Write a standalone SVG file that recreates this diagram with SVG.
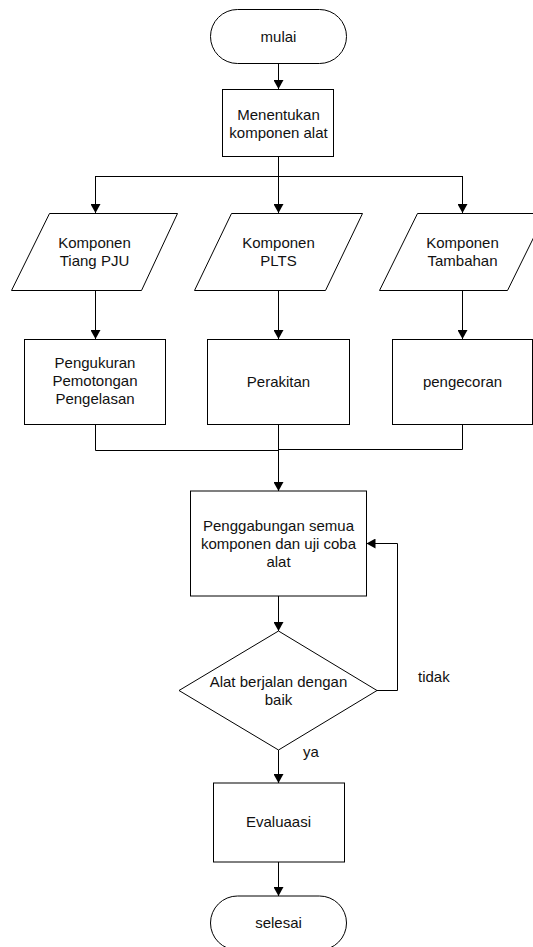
<svg xmlns="http://www.w3.org/2000/svg" width="533" height="947" viewBox="0 0 533 947">
<style>
.s{fill:#fff;stroke:#000;stroke-width:1}
.t{font-family:"Liberation Sans",Arial,sans-serif;font-size:15px;fill:#111;text-anchor:middle}
.l{text-anchor:start}
.c{fill:none;stroke:#000;stroke-width:1}
</style>
<defs>
<marker id="a" markerUnits="userSpaceOnUse" markerWidth="10" markerHeight="10" refX="9" refY="5" orient="auto">
<path d="M0,0 L9,5 L0,10 z" fill="#000"/>
</marker>
</defs>
<rect width="533" height="947" fill="#fff"/>
<g id="connectors">
<path class="c" d="M278.5,63 V89" marker-end="url(#a)"/>
<path class="c" d="M278.5,156 V213"  marker-end="url(#a)"/>
<path class="c" d="M95.5,176.5 H462.5"/>
<path class="c" d="M95.5,176 V213" marker-end="url(#a)"/>
<path class="c" d="M462.5,176 V213" marker-end="url(#a)"/>
<path class="c" d="M95.5,290 V339" marker-end="url(#a)"/>
<path class="c" d="M278.5,290 V339" marker-end="url(#a)"/>
<path class="c" d="M462.5,290 V339" marker-end="url(#a)"/>
<path class="c" d="M95.5,424 V450.5 H278.5"/>
<path class="c" d="M462.5,424 V449.5 H278.5"/>
<path class="c" d="M278.5,424 V491" marker-end="url(#a)"/>
<path class="c" d="M278.5,596 V631" marker-end="url(#a)"/>
<path class="c" d="M377,690.5 H397.5 V543.5 H366.5" marker-end="url(#a)"/>
<path class="c" d="M278.5,750 V783" marker-end="url(#a)"/>
<path class="c" d="M278.5,862 V896" marker-end="url(#a)"/>
<text class="t l" x="418" y="682">tidak</text>
<text class="t l" x="303" y="757">ya</text>
</g>
<g id="mulai">
<rect class="s" x="210.5" y="9.5" width="136" height="54" rx="27" ry="27"/>
<text class="t" x="278.5" y="42">mulai</text>
</g>
<g id="menentukan">
<rect class="s" x="222.5" y="89.5" width="111" height="67"/>
<text class="t" x="278.5" y="120">Menentukan</text>
<text class="t" x="278.5" y="138">komponen alat</text>
</g>
<g id="tiang">
<polygon class="s" points="49.5,213.5 177.5,213.5 141.5,290.5 11.5,290.5"/>
<text class="t" x="94.5" y="248">Komponen</text>
<text class="t" x="94.5" y="266">Tiang PJU</text>
</g>
<g id="plts">
<polygon class="s" points="231.5,213.5 362.5,213.5 325.5,290.5 194.5,290.5"/>
<text class="t" x="278.5" y="248">Komponen</text>
<text class="t" x="278.5" y="266">PLTS</text>
</g>
<g id="tambahan">
<polygon class="s" points="417.5,213.5 545.5,213.5 507.5,290.5 379.5,290.5"/>
<text class="t" x="462.5" y="248">Komponen</text>
<text class="t" x="462.5" y="266">Tambahan</text>
</g>
<g id="pengukuran">
<rect class="s" x="24.5" y="339.5" width="141" height="85"/>
<text class="t" x="95" y="368">Pengukuran</text>
<text class="t" x="95" y="386">Pemotongan</text>
<text class="t" x="95" y="404">Pengelasan</text>
</g>
<g id="perakitan">
<rect class="s" x="207.5" y="339.5" width="142" height="85"/>
<text class="t" x="278.5" y="387">Perakitan</text>
</g>
<g id="pengecoran">
<rect class="s" x="392.5" y="339.5" width="140" height="85"/>
<text class="t" x="462.5" y="387">pengecoran</text>
</g>
<g id="penggabungan">
<rect class="s" x="190.5" y="491" width="176" height="105"/>
<text class="t" x="278.5" y="531">Penggabungan semua</text>
<text class="t" x="278.5" y="549">komponen dan uji coba</text>
<text class="t" x="278.5" y="567">alat</text>
</g>
<g id="keputusan">
<polygon class="s" points="278.5,631 377,690.5 278.5,750 179,690.5"/>
<text class="t" x="278.5" y="687">Alat berjalan dengan</text>
<text class="t" x="278.5" y="705">baik</text>
</g>
<g id="evaluasi">
<rect class="s" x="213.5" y="783" width="131" height="79"/>
<text class="t" x="278.5" y="827">Evaluaasi</text>
</g>
<g id="selesai">
<rect class="s" x="210.5" y="896" width="136" height="54" rx="27" ry="27"/>
<text class="t" x="278.5" y="928">selesai</text>
</g>
</svg>
